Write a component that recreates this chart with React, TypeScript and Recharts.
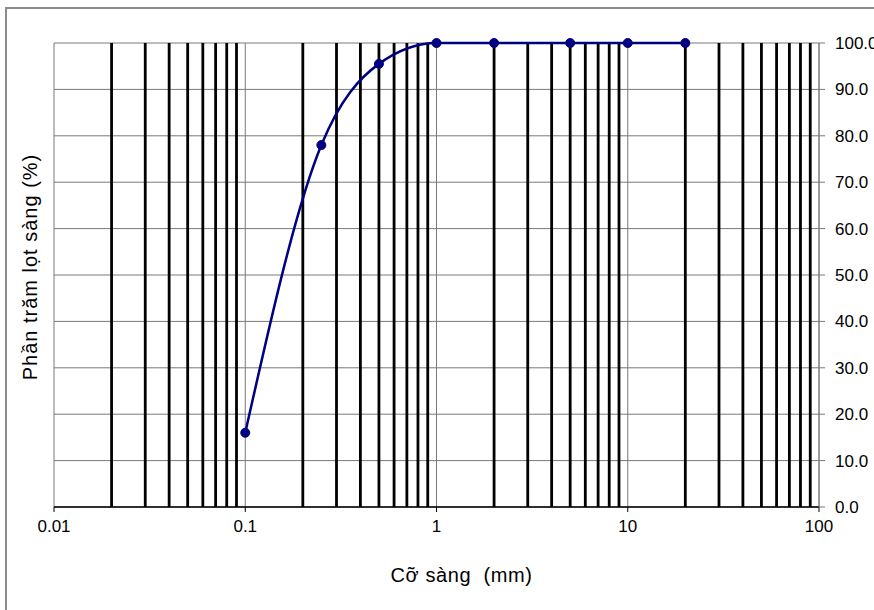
import React from 'react';
import { LineChart, Line, XAxis, YAxis, CartesianGrid, ReferenceLine, Label } from 'recharts';

const sieveSizes = [0.1, 0.25, 0.5, 1, 2, 5, 10, 20];
const percentPassing = [16, 78, 95.5, 100, 100, 100, 100, 100];
const xTicks = [0.01, 0.1, 1, 10, 100];
const yTicks = [0, 10, 20, 30, 40, 50, 60, 70, 80, 90, 100];
const minorGridLines = [
  0.02, 0.03, 0.04, 0.05, 0.06, 0.07, 0.08, 0.09,
  0.2, 0.3, 0.4, 0.5, 0.6, 0.7, 0.8, 0.9,
  2, 3, 4, 5, 6, 7, 8, 9,
  20, 30, 40, 50, 60, 70, 80, 90,
];
const xTitle = 'Cỡ sàng\u00a0\u00a0(mm)';
const yTitle = 'Phần trăm lọt sàng (%)';

const data = sieveSizes.map((s, i) => ({ size: s, pass: percentPassing[i] }));

const FONT = '"Liberation Sans", Arial, sans-serif';

export default function App() {
  return (
    <div style={{ position: 'absolute', left: 0, top: 0, width: 874, height: 610, overflow: 'hidden', background: '#fff' }}>
      <div
        style={{
          position: 'absolute',
          left: 5,
          top: 7,
          width: 1000,
          height: 1000,
          borderLeft: '2px solid #8c8c8c',
          borderTop: '2px solid #8c8c8c',
        }}
      />
      <div style={{ position: 'absolute', left: 0, top: 0 }}>
        <LineChart
          width={874}
          height={610}
          data={data}
          margin={{ top: 43, right: 0, bottom: 0, left: 6 }}
          style={{ fontFamily: FONT }}
        >
          <CartesianGrid yAxisId="R" stroke="#7a7a7a" strokeWidth={1} horizontal vertical />
          {minorGridLines.map((v) => (
            <ReferenceLine key={v} x={v} yAxisId="R" stroke="#000" strokeWidth={2.8} ifOverflow="hidden" />
          ))}
          <XAxis
            dataKey="size"
            type="number"
            scale="log"
            domain={[0.01, 100]}
            ticks={xTicks}
            allowDataOverflow
            height={103}
            tickSize={5}
            tickMargin={8}
            tickFormatter={(v: number) => String(v)}
            tick={{ fill: '#000', fontSize: 17, fontFamily: FONT }}
            axisLine={{ stroke: '#000', strokeWidth: 1.5 }}
            tickLine={{ stroke: '#000' }}
          >
            <Label
              value={xTitle}
              position="insideBottom"
              offset={28}
              dx={25}
              style={{ fill: '#000', fontSize: 20, fontFamily: FONT, letterSpacing: 0.6 }}
            />
          </XAxis>
          <YAxis
            yAxisId="L"
            orientation="left"
            width={48}
            tick={false}
            axisLine={false}
            tickLine={false}
            domain={[0, 100]}
          >
            <Label
              value={yTitle}
              angle={-90}
              position="center"
              dy={-8}
              style={{ fill: '#000', fontSize: 20, fontFamily: FONT, letterSpacing: 1, textAnchor: 'middle' }}
            />
          </YAxis>
          <YAxis
            yAxisId="R"
            orientation="right"
            width={55}
            domain={[0, 100]}
            ticks={yTicks}
            interval={0}
            tickSize={6}
            tickMargin={10}
            tickFormatter={(v: number) => v.toFixed(1)}
            tick={{ fill: '#000', fontSize: 17, fontFamily: FONT, textAnchor: 'start' }}
            axisLine={{ stroke: '#7a7a7a' }}
            tickLine={{ stroke: '#7a7a7a' }}
          />
          <Line
            yAxisId="R"
            dataKey="pass"
            type="monotone"
            stroke="#000080"
            strokeWidth={2.5}
            dot={{ r: 4.5, fill: '#000080', stroke: '#000080', strokeWidth: 1 }}
            activeDot={false}
            isAnimationActive={false}
          />
        </LineChart>
      </div>
    </div>
  );
}
